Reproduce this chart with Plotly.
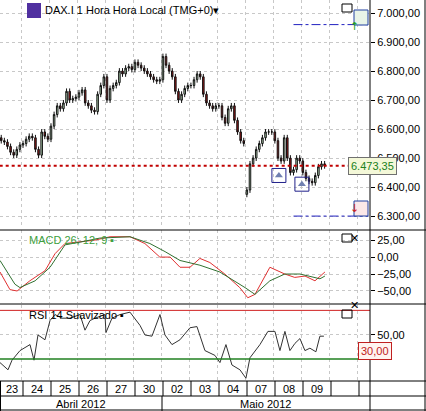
import plotly.graph_objects as go
from plotly.subplots import make_subplots

days = ["23","24","25","26","27","30","02","03","04","07","08","09","",""]
months = ["Abril 2012","Maio 2012"]
closes = [6560,6555,6540,6520,6510,6530,6545,
          6550,6565,6575,6570,6530,6510,6590,6575,6565,
          6610,6650,6680,6670,6690,6730,6700,6705,6710,
          6725,6735,6690,6680,6665,6660,6720,6750,6780,
          6700,6740,6750,6760,6800,6790,6810,6815,6805,
          6830,6820,6810,6800,6790,6780,6770,6765,6770,
          6850,6820,6800,6780,6730,6700,6720,6740,6750,
          6750,6770,6790,6780,6720,6690,6680,6670,6680,
          6680,6640,6620,6670,6680,6630,6590,6560,6550,
          6390,6480,6500,6530,6550,6570,6590,6590,6590,
          6560,6500,6490,6570,6500,6450,6460,6500,6490,
          6450,6430,6420,6415,6440,6470,6480,6473.35]
opens = [6570] + closes[:-1]
opens[79] = 6375
macd_x = [-0.4,2.8,5.1,9.2,14.1,17.3,20.5,25.3,30.1,35,41.4,46.2,51,54.3,57.5,60.7,63.9,67.1,71.9,76.7,79.3,81.6,86.4,91.2,94.4,97.7,100.9,104.1]
macd = [-22,-48,-50,-35,-20,5,20,22,25,30,30,20,0,0,-15,-15,-2,-8,-25,-45,-60,-55,-15,-25,-30,-28,-35,-22]
sig_x = [-0.4,4.4,6,10.9,15.7,20.5,25.3,31.7,41.4,47.8,52.7,57.5,63.9,70.3,78.4,81.6,86.4,91.2,96.1,102.5,104.1]
sig = [-5,-40,-45,-35,-15,18,22,28,30,20,8,-5,-12,-22,-45,-55,-35,-25,-25,-32,-28]
rsi_px = [0,8,12,20,30,34,38,45,50,55,62,70,80,85,90,95,105,106,112,120,130,140,145,152,160,165,172,180,190,197,205,215,220,226,232,240,246,250,260,268,275,280,285,290,295,300,305,310,316,320,324]
rsi = [27,21,29,37,42,29,50,46,62,67,64,64,67,54,62,64,67,52,64,67,69,58,50,49,67,50,42,46,56,57,37,33,27,42,25,21,14,31,42,53,53,37,53,37,43,47,37,39,36,49,49]
rsi_x = [p/3.11-0.4 for p in rsi_px]
last = closes[-1]

fig = make_subplots(rows=3, cols=1, shared_xaxes=True, vertical_spacing=0)
hi = [max(o,c)+10 for o,c in zip(opens,closes)]
lo = [min(o,c)-10 for o,c in zip(opens,closes)]
fig.add_trace(go.Candlestick(x=list(range(len(closes))), open=opens, high=hi, low=lo, close=closes,
    increasing=dict(fillcolor="#b8dcb8", line=dict(color="#111", width=1)),
    decreasing=dict(fillcolor="#a01818", line=dict(color="#111", width=1)),
    whiskerwidth=0, showlegend=False), 1, 1)
fig.add_trace(go.Scatter(x=[-0.5,118.6], y=[last,last], mode="lines", line=dict(color="#c00000", dash="dot", width=2), showlegend=False), 1, 1)
for yv in (6960, 6300):
    fig.add_trace(go.Scatter(x=[94,118], y=[yv,yv], mode="lines", line=dict(color="#2020c0", dash="dashdot", width=1), showlegend=False), 1, 1)
fig.add_trace(go.Scatter(x=[89.3,96.7], y=[6440,6410], mode="markers",
    marker=dict(symbol="triangle-up", size=7, color="#7080b0"), showlegend=False), 1, 1)
fig.add_trace(go.Scatter(x=[89.3,96.7], y=[6440,6410], mode="markers",
    marker=dict(symbol="square-open", size=14, color="#20208a"), showlegend=False), 1, 1)
fig.add_trace(go.Scatter(x=macd_x, y=macd, mode="lines", line=dict(color="#e03030", width=1), showlegend=False), 2, 1)
fig.add_trace(go.Scatter(x=sig_x, y=sig, mode="lines", line=dict(color="#307030", width=1), showlegend=False), 2, 1)
fig.add_trace(go.Scatter(x=rsi_x, y=rsi, mode="lines", line=dict(color="#333", width=1), showlegend=False), 3, 1)
fig.add_trace(go.Scatter(x=[-0.5,118.6], y=[70.5,70.5], mode="lines", line=dict(color="#d02020", width=1), showlegend=False), 3, 1)
fig.add_trace(go.Scatter(x=[-0.5,118.6], y=[30,30], mode="lines", line=dict(color="#208020", width=1.5), showlegend=False), 3, 1)

ax = dict(showgrid=True, gridcolor="#c8c8c8", griddash="dot", zeroline=False, showline=False)
fig.update_xaxes(range=[-0.4,118.6], tickvals=[6.5+9*k for k in range(13)], showticklabels=False, ticks="", rangeslider_visible=False, **ax)
fig.update_yaxes(side="right", ticks="outside", ticklen=4, tickcolor="#000", automargin=False,
                 tickfont=dict(family="Liberation Sans", size=11, color="#000"), tickformat=",.2f", **ax)
fig.update_yaxes(domain=[0.445,1], range=[6258.6,7044.8], dtick=100, row=1, col=1)
fig.update_yaxes(domain=[0.263,0.440], range=[-67.6,39.7], tickvals=[-50,-25,0,25], row=2, col=1)
fig.update_yaxes(domain=[0.0754,0.258], range=[12.5,75], tickvals=[50], row=3, col=1)

def X(px): return px/370
def Y(px): return 1-px/411
shapes = []
def ln(x0,y0,x1,y1,c="#000",w=1):
    shapes.append(dict(type="line", xref="paper", yref="paper", x0=X(x0), y0=Y(y0), x1=X(x1), y1=Y(y1), line=dict(color=c, width=w)))
for yp in (230,304,381,396,410):
    ln(0,yp,426,yp)
ln(370,0,370,411)
ln(0.5,381,0.5,411)
ln(425,0,425,411)
ann = []
for k,d in enumerate(days):
    xs = 23 + (k-1)*28 if k else 0
    xe = 23 + k*28
    if xe < 370:
        ln(xe,381,xe,396)
    if d:
        ann.append(dict(text=d, x=X((xs+xe)/2), y=Y(388.5)))
ln(162,396,162,411)
ann.append(dict(text=months[0], x=X(81), y=Y(403.5)))
ann.append(dict(text=months[1], x=X(265), y=Y(403.5)))
for a in ann:
    fig.add_annotation(xref="paper", yref="paper", showarrow=False, xanchor="center", yanchor="middle",
                       font=dict(family="Liberation Sans", size=11, color="#000"), **a)
fig.add_annotation(xref="paper", yref="paper", x=X(43), y=Y(10), text="DAX.I 1 Hora Hora Local (TMG+0)▾", showarrow=False,
                   xanchor="left", yanchor="middle", font=dict(family="Liberation Sans", size=11, color="#000"))
shapes.append(dict(type="rect", xref="paper", yref="paper", x0=X(27), x1=X(41), y0=Y(18), y1=Y(3), fillcolor="#5030a0", line=dict(width=0)))
fig.add_annotation(xref="paper", yref="paper", x=X(27), y=Y(240), text="MACD 26; 12; 9 ▪", showarrow=False,
                   xanchor="left", yanchor="middle", font=dict(family="Liberation Sans", size=11, color="#40a040"))
fig.add_annotation(xref="paper", yref="paper", x=X(27), y=Y(315), text="RSI 14 Suavizado ▪", showarrow=False,
                   xanchor="left", yanchor="middle", font=dict(family="Liberation Sans", size=11, color="#000"))
for yp in (8, 238, 314):
    shapes.append(dict(type="rect", xref="paper", yref="paper", x0=X(342), x1=X(352), y0=Y(yp+4), y1=Y(yp-4), line=dict(color="#000", width=1)))
for yp in (238, 314):
    fig.add_annotation(xref="paper", yref="paper", x=X(361), y=Y(yp), text="✕", showarrow=False, font=dict(size=11, color="#000"))
shapes.append(dict(type="rect", xref="paper", yref="paper", x0=X(354), x1=X(368), y0=Y(25), y1=Y(10), fillcolor="#e8f4e8", line=dict(color="#2040a0", width=1)))
shapes.append(dict(type="rect", xref="paper", yref="paper", x0=X(354), x1=X(368), y0=Y(216), y1=Y(201), fillcolor="#fbe8e8", line=dict(color="#2040a0", width=1)))
fig.add_annotation(xref="paper", yref="paper", x=X(361), y=Y(17.5), text="↑", showarrow=False, font=dict(family="DejaVu Sans", size=11, color="#20a020"))
fig.add_annotation(xref="paper", yref="paper", x=X(361), y=Y(208.5), text="↓", showarrow=False, font=dict(family="DejaVu Sans", size=11, color="#d02020"))
fig.add_annotation(xref="paper", yref="paper", x=X(397), y=Y(166), text="6.473,35", showarrow=False, bgcolor="#f4f8d8",
                   bordercolor="#707070", borderwidth=1, borderpad=2, font=dict(family="Liberation Sans", size=11, color="#208020"))
fig.add_annotation(xref="paper", yref="paper", x=X(392), y=Y(360), text="30,00", showarrow=False, bgcolor="#fff4f0",
                   bordercolor="#c02020", borderwidth=1, borderpad=2, font=dict(family="Liberation Sans", size=11, color="#c02020"))

fig.update_layout(width=426, height=411, margin=dict(l=0, r=56, t=0, b=0), paper_bgcolor="#fff", plot_bgcolor="#fff",
                  separators=",.", shapes=shapes, showlegend=False)
fig.write_html("out.html", config={"displayModeBar": False},
               post_script="document.body.style.margin='0';document.body.style.overflow='hidden';")
